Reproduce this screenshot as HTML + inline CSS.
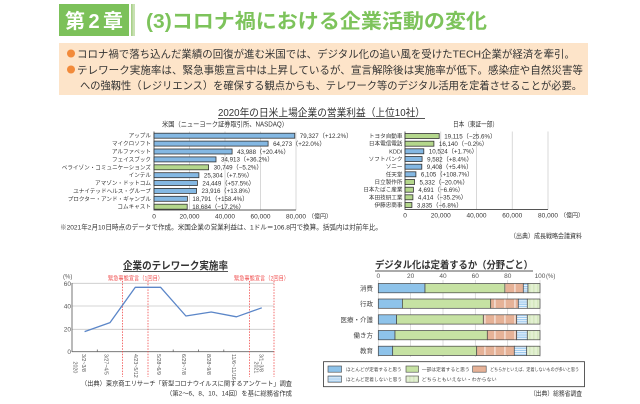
<!DOCTYPE html>
<html><head><meta charset="utf-8"><style>
html,body{margin:0;padding:0;background:#fff;}
svg{display:block;font-family:"Liberation Sans","Noto Sans CJK JP",sans-serif;}
</style></head><body>
<svg width="640" height="404" viewBox="0 0 640 404" xmlns="http://www.w3.org/2000/svg">
<defs>
<pattern id="salmon" width="10" height="10" patternUnits="userSpaceOnUse"><rect width="10" height="10" fill="#e6b297"/><rect x="4.5" width="0.9" height="10" fill="#fff"/></pattern>
<pattern id="bstripe" width="4" height="2.2" patternUnits="userSpaceOnUse"><rect width="4" height="2.2" fill="#9fcbef"/><rect y="1.3" width="4" height="0.8" fill="#fff"/></pattern>
<pattern id="lgreen" width="4" height="4" patternUnits="userSpaceOnUse"><rect width="4" height="4" fill="#e3f0d2"/><rect x="1.5" width="0.8" height="4" fill="#c9e1ae"/></pattern>
</defs>

<!-- header -->
<rect x="59" y="4" width="70" height="32" fill="#7cc15a"/>
<text x="65" y="28" font-size="20" font-weight="bold" fill="#fff" textLength="58" lengthAdjust="spacing">第 2 章</text>
<rect x="131" y="4" width="4" height="32" fill="#c8e1b2"/>
<rect x="131" y="4" width="1.5" height="32" fill="#a9d08a"/>
<text x="146" y="28" font-size="20" font-weight="bold" fill="#7dc35b" textLength="341" lengthAdjust="spacingAndGlyphs">(3)コロナ禍における企業活動の変化</text>

<!-- summary -->
<rect x="59" y="43" width="529" height="52" fill="#fde4c9"/>
<circle cx="71" cy="53.5" r="4" fill="#f28a3a"/>
<circle cx="71" cy="69.5" r="4" fill="#f28a3a"/>
<g font-size="10.5" fill="#333">
<text x="77" y="57.5" textLength="498" lengthAdjust="spacingAndGlyphs">コロナ禍で落ち込んだ業績の回復が進む米国では、デジタル化の追い風を受けたTECH企業が経済を牽引。</text>
<text x="77" y="73.5" textLength="506" lengthAdjust="spacingAndGlyphs">テレワーク実施率は、緊急事態宣言中は上昇しているが、宣言解除後は実施率が低下。感染症や自然災害等</text>
<text x="80" y="89" textLength="502" lengthAdjust="spacingAndGlyphs">への強靱性（レジリエンス）を確保する観点からも、テレワーク等のデジタル活用を定着させることが必要。</text>
</g>

<!-- bar chart title -->
<text x="218" y="116" font-size="10.5" fill="#333" textLength="207" lengthAdjust="spacingAndGlyphs">2020年の日米上場企業の営業利益（上位10社）</text>
<line x1="218" y1="118.5" x2="425" y2="118.5" stroke="#555" stroke-width="0.9"/>
<text x="162" y="126.5" font-size="7" fill="#333" textLength="126" lengthAdjust="spacingAndGlyphs">米国（ニューヨーク証券取引所、NASDAQ）</text>
<text x="453" y="126.5" font-size="7" fill="#333" textLength="45" lengthAdjust="spacingAndGlyphs">日本（東証一部）</text>

<!-- US chart -->
<g stroke="#cfcfcf" stroke-width="0.8">
<line x1="189.5" y1="131.5" x2="189.5" y2="210"/>
<line x1="225" y1="131.5" x2="225" y2="210"/>
<line x1="260.5" y1="131.5" x2="260.5" y2="210"/>
<line x1="296" y1="131.5" x2="296" y2="210"/>
</g>
<line x1="154" y1="131.5" x2="154" y2="210.5" stroke="#555" stroke-width="0.9"/>
<line x1="154" y1="210" x2="296" y2="210" stroke="#555" stroke-width="0.9"/>
<g stroke="#333" stroke-width="0.8">
<rect x="154" y="133.2" width="140.8" height="5" fill="#84b8e3"/>
<rect x="154" y="141.1" width="114.1" height="5" fill="#84b8e3"/>
<rect x="154" y="149" width="78.1" height="5" fill="#84b8e3"/>
<rect x="154" y="156.9" width="62" height="5" fill="#84b8e3"/>
<rect x="154" y="164.8" width="54.6" height="5" fill="#b4d78c"/>
<rect x="154" y="172.7" width="44.9" height="5" fill="#84b8e3"/>
<rect x="154" y="180.5" width="43.4" height="5" fill="#84b8e3"/>
<rect x="154" y="188.4" width="42.5" height="5" fill="#84b8e3"/>
<rect x="154" y="196.3" width="33.4" height="5" fill="#84b8e3"/>
<rect x="154" y="204.2" width="33.2" height="5" fill="#b4d78c"/>
</g>
<g font-size="5.6" fill="#333" text-anchor="end">
<text x="151" y="137.7">アップル</text>
<text x="151" y="145.6">マイクロソフト</text>
<text x="151" y="153.5">アルファベット</text>
<text x="151" y="161.4">フェイスブック</text>
<text x="151" y="169.3">ベライゾン・コミュニケーションズ</text>
<text x="151" y="177.2">インテル</text>
<text x="151" y="185">アマゾン・ドットコム</text>
<text x="151" y="192.9">ユナイテッドヘルス・グループ</text>
<text x="151" y="200.8">プロクター・アンド・ギャンブル</text>
<text x="151" y="208.7">コムキャスト</text>
</g>
<g font-size="6.2" fill="#333">
<text x="299.8" y="138">79,327（+12.2%）</text>
<text x="273.1" y="145.9">64,273（+22.0%）</text>
<text x="237.1" y="153.8">43,988（+20.4%）</text>
<text x="221" y="161.7">34,913（+36.2%）</text>
<text x="213.6" y="169.6">30,749（−5.2%）</text>
<text x="203.9" y="177.5">25,304（+7.5%）</text>
<text x="202.4" y="185.3">24,449（+57.5%）</text>
<text x="201.5" y="193.2">23,916（+13.8%）</text>
<text x="192.4" y="201.1">18,791（+158.4%）</text>
<text x="192.2" y="209">18,684（−17.2%）</text>
</g>
<g font-size="6.5" fill="#333" text-anchor="middle">
<text x="154" y="218.5">0</text>
<text x="189.5" y="218.5">20,000</text>
<text x="225" y="218.5">40,000</text>
<text x="260.5" y="218.5">60,000</text>
<text x="296" y="218.5">80,000</text>
</g>
<text x="308" y="218.5" font-size="6" fill="#333">（億円）</text>

<!-- JP chart -->
<g stroke="#cfcfcf" stroke-width="0.8">
<line x1="440.75" y1="131.5" x2="440.75" y2="209.5"/>
<line x1="476.5" y1="131.5" x2="476.5" y2="209.5"/>
<line x1="512.25" y1="131.5" x2="512.25" y2="209.5"/>
<line x1="548" y1="131.5" x2="548" y2="209.5"/>
</g>
<line x1="405" y1="131.5" x2="405" y2="210" stroke="#555" stroke-width="0.9"/>
<line x1="405" y1="209.5" x2="548" y2="209.5" stroke="#555" stroke-width="0.9"/>
<g stroke="#333" stroke-width="0.8">
<rect x="405" y="133.5" width="34.2" height="5" fill="#b4d78c"/>
<rect x="405" y="141.2" width="28.9" height="5" fill="#b4d78c"/>
<rect x="405" y="148.8" width="18.8" height="5" fill="#84b8e3"/>
<rect x="405" y="156.5" width="17.1" height="5" fill="#84b8e3"/>
<rect x="405" y="164.2" width="16.8" height="5" fill="#84b8e3"/>
<rect x="405" y="171.8" width="10.9" height="5" fill="#84b8e3"/>
<rect x="405" y="179.5" width="9.5" height="5" fill="#b4d78c"/>
<rect x="405" y="187.2" width="8.4" height="5" fill="#b4d78c"/>
<rect x="405" y="194.8" width="7.9" height="5" fill="#b4d78c"/>
<rect x="405" y="202.5" width="6.9" height="5" fill="#b4d78c"/>
</g>
<g font-size="5.6" fill="#333" text-anchor="end">
<text x="402.5" y="138">トヨタ自動車</text>
<text x="402.5" y="145.7">日本電信電話</text>
<text x="402.5" y="153.3">KDDI</text>
<text x="402.5" y="161">ソフトバンク</text>
<text x="402.5" y="168.7">ソニー</text>
<text x="402.5" y="176.3">任天堂</text>
<text x="402.5" y="184">日立製作所</text>
<text x="402.5" y="191.7">日本たばこ産業</text>
<text x="402.5" y="199.3">本田技研工業</text>
<text x="402.5" y="207">伊藤忠商事</text>
</g>
<g font-size="6.2" fill="#333">
<text x="444.2" y="138.3">19,115（−25.6%）</text>
<text x="438.9" y="146">16,140（−0.2%）</text>
<text x="428.8" y="153.6">10,524（+1.7%）</text>
<text x="427.1" y="161.3">9,582（+8.4%）</text>
<text x="426.8" y="169">9,408（+5.4%）</text>
<text x="420.9" y="176.6">6,105（+108.7%）</text>
<text x="419.5" y="184.3">5,332（−20.0%）</text>
<text x="418.4" y="192">4,691（−6.6%）</text>
<text x="417.9" y="199.6">4,414（−35.2%）</text>
<text x="416.9" y="207.3">3,835（−6.8%）</text>
</g>
<g font-size="6.5" fill="#333" text-anchor="middle">
<text x="405" y="217.5">0</text>
<text x="440.75" y="217.5">20,000</text>
<text x="476.5" y="217.5">40,000</text>
<text x="512.25" y="217.5">60,000</text>
<text x="548" y="217.5">80,000</text>
</g>
<text x="560" y="217.5" font-size="6" fill="#333">（億円）</text>

<text x="60" y="229.5" font-size="6.7" fill="#333" textLength="322" lengthAdjust="spacingAndGlyphs">※2021年2月10日時点のデータで作成。米国企業の営業利益は、1ドル＝106.8円で換算。括弧内は対前年比。</text>
<text x="510" y="238" font-size="6.5" fill="#333" textLength="72" lengthAdjust="spacingAndGlyphs">（出典）成長戦略会議資料</text>

<!-- Line chart -->
<text x="123" y="269" font-size="10.5" font-weight="bold" fill="#333" textLength="105" lengthAdjust="spacingAndGlyphs">企業のテレワーク実施率</text>
<line x1="123" y1="271.5" x2="228" y2="271.5" stroke="#555" stroke-width="0.9"/>
<text x="63" y="278.5" font-size="6" fill="#555">(%)</text>
<g font-size="6.5" fill="#555" text-anchor="end">
<text x="71" y="285.8">60</text>
<text x="71" y="308.4">40</text>
<text x="71" y="331.7">20</text>
<text x="71" y="354">0</text>
</g>
<g stroke="#c8c8c8" stroke-width="0.8">
<line x1="72" y1="283.3" x2="274" y2="283.3"/>
<line x1="72" y1="306" x2="274" y2="306"/>
<line x1="72" y1="329.3" x2="274" y2="329.3"/>
</g>
<line x1="72" y1="283" x2="72" y2="352" stroke="#666" stroke-width="0.9"/>
<line x1="72" y1="351.7" x2="274" y2="351.7" stroke="#666" stroke-width="0.9"/>
<g stroke="#666" stroke-width="0.8">
<line x1="97.3" y1="351.7" x2="97.3" y2="349.5"/>
<line x1="173.2" y1="351.7" x2="173.2" y2="349.5"/>
<line x1="198.5" y1="351.7" x2="198.5" y2="349.5"/>
<line x1="223.8" y1="351.7" x2="223.8" y2="349.5"/>
</g>
<g stroke="#f04a4a" stroke-width="0.8" stroke-dasharray="1.5,1.3">
<line x1="122.5" y1="281" x2="122.5" y2="377"/>
<line x1="148" y1="281" x2="148" y2="377"/>
<line x1="249.5" y1="281" x2="249.5" y2="377"/>
<line x1="274" y1="281" x2="274" y2="377"/>
</g>
<g font-size="6" fill="#f05050">
<text x="108" y="280.3" textLength="55" lengthAdjust="spacingAndGlyphs">緊急事態宣言（1回目）</text>
<text x="234" y="280.3" textLength="55" lengthAdjust="spacingAndGlyphs">緊急事態宣言（2回目）</text>
</g>
<polyline points="84.6,331.6 110,322.6 135.3,287.3 160.6,287.3 185.9,316 211.2,312 236.5,316.8 261.8,307.8" fill="none" stroke="#5b86c8" stroke-width="1.3" stroke-linejoin="round"/>
<g font-size="5.3" fill="#555">
<text transform="translate(82,354) rotate(90)">3/2~3/8</text>
<text transform="translate(73.5,361.5) rotate(90)">2020</text>
<text transform="translate(104.7,354) rotate(90)">3/27~4/5</text>
<text transform="translate(134,354) rotate(90)">4/23~5/12</text>
<text transform="translate(157,354) rotate(90)">5/28~6/9</text>
<text transform="translate(182,354) rotate(90)">6/29~7/8</text>
<text transform="translate(207,354) rotate(90)">8/28~9/8</text>
<text transform="translate(232,354) rotate(90)">11/6~11/16</text>
<text transform="translate(259.7,354) rotate(90)">3/1~3/8</text>
<text transform="translate(254.7,361.5) rotate(90)">2021</text>
</g>
<text x="81" y="385.5" font-size="6.5" fill="#333" textLength="211" lengthAdjust="spacingAndGlyphs">（出典）東京商工リサーチ「新型コロナウイルスに関するアンケート」調査</text>
<text x="166" y="395.5" font-size="6.5" fill="#333" textLength="126" lengthAdjust="spacingAndGlyphs">（第2～6、8、10、14回）を基に総務省作成</text>

<!-- Stacked chart -->
<text x="375" y="268.5" font-size="10" font-weight="bold" fill="#333" textLength="158" lengthAdjust="spacingAndGlyphs">デジタル化は定着するか（分野ごと）</text>
<line x1="375" y1="271" x2="533" y2="271" stroke="#555" stroke-width="0.9"/>
<g font-size="6.5" fill="#555" text-anchor="middle">
<text x="378.3" y="278">0</text>
<text x="410.6" y="278">20</text>
<text x="443" y="278">40</text>
<text x="475.3" y="278">60</text>
<text x="507.7" y="278">80</text>
<text x="540" y="278">100</text>
</g>
<text x="546" y="278" font-size="6" fill="#555">(%)</text>
<g stroke="#d0d0d0" stroke-width="0.7">
<line x1="378.3" y1="280" x2="378.3" y2="357"/>
<line x1="410.6" y1="280" x2="410.6" y2="357"/>
<line x1="443" y1="280" x2="443" y2="357"/>
<line x1="475.3" y1="280" x2="475.3" y2="357"/>
<line x1="507.7" y1="280" x2="507.7" y2="357"/>
<line x1="540" y1="280" x2="540" y2="357"/>
</g>
<g font-size="6.5" fill="#444" text-anchor="end">
<text x="373" y="290.5">消費</text>
<text x="373" y="306">行政</text>
<text x="373" y="321.8">医療・介護</text>
<text x="373" y="337.5">働き方</text>
<text x="373" y="353.2">教育</text>
</g>
<g stroke="#444" stroke-width="0.7">
<!-- 消費 -->
<rect x="378.3" y="283.5" width="46.7" height="9.3" fill="#8ec3ea"/>
<rect x="425" y="283.5" width="79.9" height="9.3" fill="#c6e2a3"/>
<rect x="504.9" y="283.5" width="18.4" height="9.3" fill="url(#salmon)"/>
<rect x="523.3" y="283.5" width="4.7" height="9.3" fill="url(#bstripe)"/>
<rect x="528" y="283.5" width="12" height="9.3" fill="url(#lgreen)"/>
<!-- 行政 -->
<rect x="378.3" y="299" width="24.1" height="9.3" fill="#8ec3ea"/>
<rect x="402.4" y="299" width="88.3" height="9.3" fill="#c6e2a3"/>
<rect x="490.7" y="299" width="27.6" height="9.3" fill="url(#salmon)"/>
<rect x="518.3" y="299" width="9" height="9.3" fill="url(#bstripe)"/>
<rect x="527.3" y="299" width="12.7" height="9.3" fill="url(#lgreen)"/>
<!-- 医療 -->
<rect x="378.3" y="314.8" width="18.3" height="9.3" fill="#8ec3ea"/>
<rect x="396.6" y="314.8" width="86.7" height="9.3" fill="#c6e2a3"/>
<rect x="483.3" y="314.8" width="33.4" height="9.3" fill="url(#salmon)"/>
<rect x="516.7" y="314.8" width="10.6" height="9.3" fill="url(#bstripe)"/>
<rect x="527.3" y="314.8" width="12.7" height="9.3" fill="url(#lgreen)"/>
<!-- 働き方 -->
<rect x="378.3" y="330.5" width="16.7" height="9.3" fill="#8ec3ea"/>
<rect x="395" y="330.5" width="92.3" height="9.3" fill="#c6e2a3"/>
<rect x="487.3" y="330.5" width="29.4" height="9.3" fill="url(#salmon)"/>
<rect x="516.7" y="330.5" width="10.6" height="9.3" fill="url(#bstripe)"/>
<rect x="527.3" y="330.5" width="12.7" height="9.3" fill="url(#lgreen)"/>
<!-- 教育 -->
<rect x="378.3" y="346.2" width="14.4" height="9.3" fill="#8ec3ea"/>
<rect x="392.7" y="346.2" width="84" height="9.3" fill="#c6e2a3"/>
<rect x="476.7" y="346.2" width="37.6" height="9.3" fill="url(#salmon)"/>
<rect x="514.3" y="346.2" width="12.4" height="9.3" fill="url(#bstripe)"/>
<rect x="526.7" y="346.2" width="13.3" height="9.3" fill="url(#lgreen)"/>
</g>

<!-- legend -->
<rect x="323.5" y="361.7" width="261" height="25" fill="#fff" stroke="#333" stroke-width="0.8"/>
<g stroke="#444" stroke-width="0.6">
<rect x="328" y="366" width="13.5" height="6.2" fill="#8ec3ea"/>
<rect x="406" y="366" width="12.5" height="6.2" fill="#c6e2a3"/>
<rect x="472.7" y="366" width="13.5" height="6.2" fill="#e6b297"/>
<rect x="328" y="376" width="13.5" height="6.2" fill="url(#bstripe)"/>
<rect x="406" y="376" width="12.5" height="6.2" fill="url(#lgreen)"/>
</g>
<g font-size="4.8" fill="#444">
<text x="346" y="370.8" textLength="55.7" lengthAdjust="spacingAndGlyphs">ほとんどが定着すると思う</text>
<text x="421.7" y="370.8" textLength="48" lengthAdjust="spacingAndGlyphs">一部は定着すると思う</text>
<text x="490" y="370.8" textLength="89" lengthAdjust="spacingAndGlyphs">どちらかといえば、定着しないものが多いと思う</text>
<text x="346" y="380.8" textLength="56" lengthAdjust="spacingAndGlyphs">ほとんど定着しないと思う</text>
<text x="421.7" y="380.8" textLength="75" lengthAdjust="spacingAndGlyphs">どちらともいえない・わからない</text>
</g>
<text x="530" y="395.5" font-size="6.5" fill="#333" textLength="52" lengthAdjust="spacingAndGlyphs">（出典）総務省調査</text>
</svg>
</body></html>
